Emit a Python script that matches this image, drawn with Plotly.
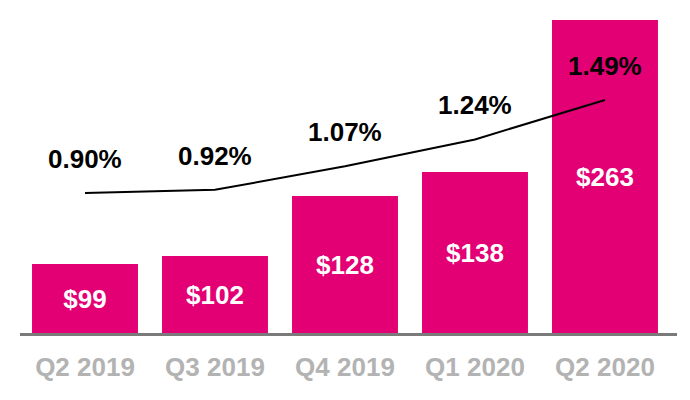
import plotly.graph_objects as go

categories = ["Q2 2019", "Q3 2019", "Q4 2019", "Q1 2020", "Q2 2020"]
bar_labels = ["$99", "$102", "$128", "$138", "$263"]
# visual bar heights as drawn in the picture (chart is not to scale)
bar_heights = [69, 77, 137, 161, 313]
pct_values = [0.90, 0.92, 1.07, 1.24, 1.49]
pct_labels = ["0.90%", "0.92%", "1.07%", "1.24%", "1.49%"]

FONT = "Liberation Sans, Arial"
MAGENTA = "#E20074"

fig = go.Figure()
fig.add_trace(go.Bar(
    x=categories, y=bar_heights, text=bar_labels,
    textposition="inside", insidetextanchor="middle",
    textfont=dict(family=FONT, size=26, color="white", weight="bold"),
    marker=dict(color=MAGENTA, line=dict(width=0)),
    cliponaxis=False, showlegend=False, hoverinfo="skip",
))
fig.add_trace(go.Scatter(
    x=categories, y=pct_values, mode="lines", yaxis="y2",
    line=dict(color="black", width=2), showlegend=False, hoverinfo="skip",
))
for c, v, t in zip(categories, pct_values, pct_labels):
    fig.add_annotation(x=c, y=v, yref="y2", text=t, showarrow=False,
                       yshift=34, font=dict(family=FONT, size=26, color="black", weight="bold"))

fig.update_layout(
    width=690, height=400,
    margin=dict(l=0, r=0, t=0, b=67),
    paper_bgcolor="white", plot_bgcolor="white",
    bargap=0.185,
    xaxis=dict(domain=[20/690, 677/690], range=[-0.5, 4.554],
               showline=True, linecolor="#7a7a7a", linewidth=2.5,
               ticks="outside", ticklen=9, tickcolor="rgba(0,0,0,0)",
               tickfont=dict(family=FONT, size=26, color="#b3b3b3", weight="bold"),
               showgrid=False, zeroline=False),
    yaxis=dict(range=[0, 333], visible=False, showgrid=False, zeroline=False),
    yaxis2=dict(range=[0.90 - 140/157.6, 0.90 + 193/157.6], overlaying="y",
                visible=False, showgrid=False, zeroline=False),
)

fig.write_html("out.html")
